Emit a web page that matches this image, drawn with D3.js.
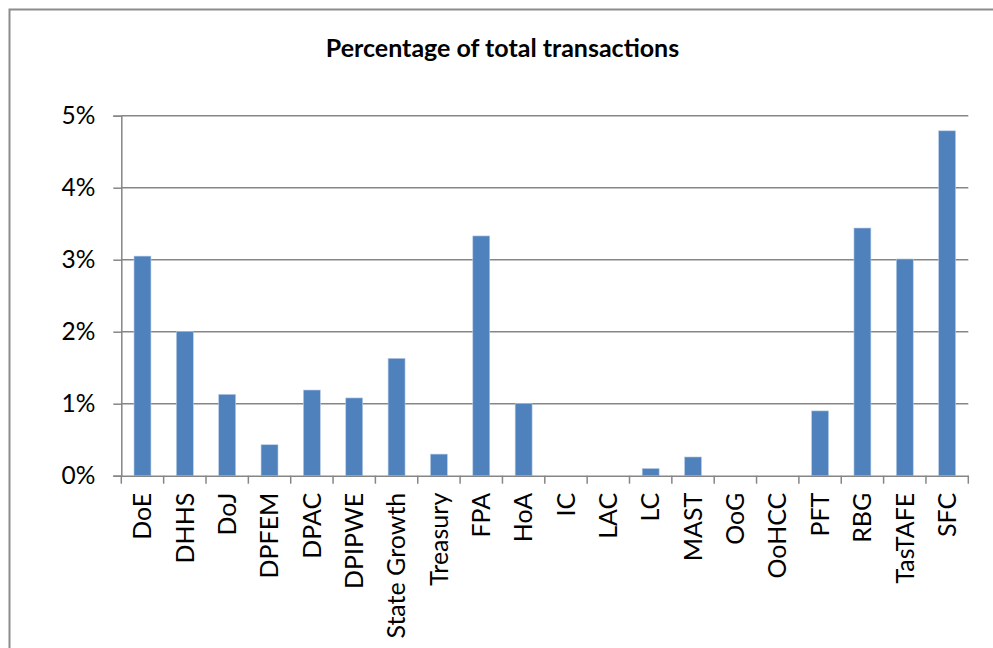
<!DOCTYPE html>
<html>
<head>
<meta charset="utf-8">
<script src="https://cdn.jsdelivr.net/npm/d3@7"></script>
<style>
  html, body { margin: 0; padding: 0; background: #fff; }
  svg { display: block; }
  text { font-family: Lato, "Open Sans", sans-serif; fill: #000; }
</style>
</head>
<body>
<svg id="chart" width="993" height="648"></svg>
<script>
const title = "Percentage of total transactions";
const categories = ["DoE","DHHS","DoJ","DPFEM","DPAC","DPIPWE","State Growth","Treasury","FPA","HoA","IC","LAC","LC","MAST","OoG","OoHCC","PFT","RBG","TasTAFE","SFC"];
const values = [3.05, 2.0, 1.13, 0.43, 1.19, 1.08, 1.63, 0.30, 3.33, 1.0, 0, 0, 0.10, 0.26, 0, 0, 0.90, 3.44, 3.01, 4.79];
const yTicks = [0, 1, 2, 3, 4, 5];

const svg = d3.select("#chart");
const W = 993, H = 648;
const plot = { left: 121.3, right: 968.3, top: 115.7, bottom: 475.7 };

// chart-area border (extends beyond the visible page on right/bottom)
svg.append("rect")
  .attr("x", 9.5).attr("y", 9.5)
  .attr("width", W + 20).attr("height", H + 20)
  .attr("fill", "#fff")
  .attr("stroke", "#8c8c8c").attr("stroke-width", 2);

const x = d3.scaleBand().domain(categories).range([plot.left, plot.right]).padding(0);
const y = d3.scaleLinear().domain([0, 5]).range([plot.bottom, plot.top]);

// gridlines + y axis
const yAxis = d3.axisLeft(y).tickValues(yTicks).tickFormat(d => d + "%")
  .tickSize(8).tickPadding(18);
const gy = svg.append("g").attr("transform", `translate(${plot.left},0)`).call(yAxis);
gy.select(".domain").attr("stroke", "#868686").attr("stroke-width", 1.5);
gy.selectAll(".tick line").attr("stroke", "#868686").attr("stroke-width", 1.5);
gy.selectAll(".tick text").attr("font-size", 24.5).attr("font-family", "Lato");

svg.append("g").selectAll("line").data(yTicks.filter(d => d > 0)).join("line")
  .attr("x1", plot.left).attr("x2", plot.right)
  .attr("y1", d => y(d)).attr("y2", d => y(d))
  .attr("stroke", "#868686").attr("stroke-width", 1.5);

// bars
const barW = x.bandwidth() * 0.4;
svg.append("g").selectAll("rect").data(categories).join("rect")
  .attr("x", (d) => x(d) + (x.bandwidth() - barW) / 2)
  .attr("width", barW)
  .attr("y", (d, i) => y(values[i]))
  .attr("height", (d, i) => y(0) - y(values[i]))
  .attr("fill", "#4f81bd")
  .attr("stroke", "#b9cde5").attr("stroke-width", 0.6);

// x axis
const xAxis = d3.axisBottom(x).tickSize(0).tickPadding(0);
const gx = svg.append("g").attr("transform", `translate(0,${plot.bottom})`).call(xAxis);
gx.select(".domain").attr("stroke", "#868686").attr("stroke-width", 1.5);
gx.selectAll(".tick text")
  .attr("font-size", 25).attr("font-family", "Lato")
  .attr("text-anchor", "end")
  .attr("dy", "0.35em")
  .attr("transform", "translate(0,17) rotate(-90)")
  .attr("x", 0).attr("y", 0);
// category boundary ticks
const bounds = categories.map(c => x(c)).concat([plot.right]);
gx.append("g").selectAll("line").data(bounds).join("line")
  .attr("x1", d => d).attr("x2", d => d).attr("y1", 0).attr("y2", 8)
  .attr("stroke", "#868686").attr("stroke-width", 1.5);

// title
svg.append("text")
  .attr("x", 502.5).attr("y", 57)
  .attr("text-anchor", "middle")
  .attr("font-size", 25).attr("font-weight", "bold")
  .text(title);
</script>
</body>
</html>
